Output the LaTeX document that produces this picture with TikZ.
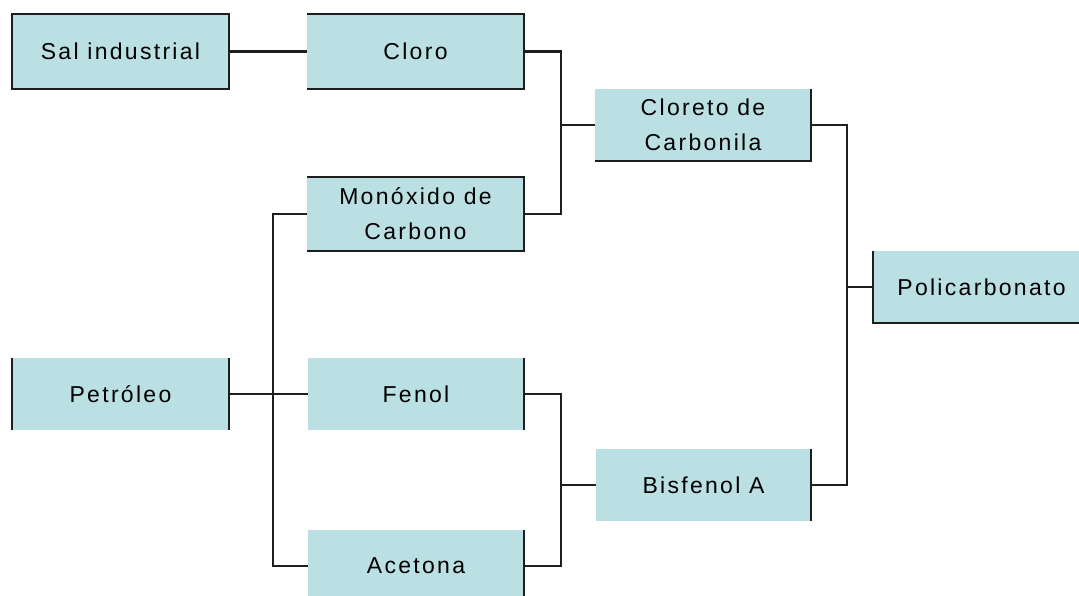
\documentclass[tikz,border=0pt]{standalone}
\usepackage{fontspec}
\setmainfont{Liberation Sans}[LetterSpace=10]
\definecolor{boxfill}{RGB}{186,224,227}
\definecolor{ink}{RGB}{30,30,30}
\begin{document}
\begin{tikzpicture}[x=1pt,y=-1pt,
  box/.style={rectangle, fill=boxfill, inner sep=0pt, minimum width=217pt,
    minimum height=73pt, align=center, font=\fontsize{23}{35}\selectfont},
  edge/.style={draw=ink, line width=2.2pt},
  link/.style={draw=ink, line width=2.2pt}]
\clip (0,0) rectangle (1079,596);
\fill[white] (0,0) rectangle (1079,596);

% boxes
\node[box, minimum height=75pt] (sal) at (120.5,51.5) {Sal industrial};
\node[box, minimum height=75pt] (cloro) at (415.5,51.5) {Cloro};
\node[box, minimum width=216pt, minimum height=72pt] (cloreto) at (703,125) {Cloreto de\\Carbonila};
\node[box, minimum height=74pt] (monox) at (415.5,214) {Monóxido de\\Carbono};
\node[box, minimum height=72pt] (petro) at (120.5,394) {Petróleo};
\node[box, minimum width=216pt, minimum height=72pt] (fenol) at (416,394) {Fenol};
\node[box, minimum width=215pt, minimum height=72pt] (bisf) at (703.5,485) {Bisfenol A};
\node[box, minimum width=216pt, minimum height=72pt] (acet) at (416,566) {Acetona};
\node[box, minimum height=72pt] (poli) at (981.5,287) {Policarbonato};

% box edges
\draw[edge] (sal.north west) rectangle (sal.south east);
\draw[edge] (cloro.north west) -- (cloro.north east) -- (cloro.south east) -- (cloro.south west);
\draw[edge] (cloreto.north east) -- (cloreto.south east) -- (cloreto.south west);
\draw[edge] (monox.north west) -- (monox.north east) -- (monox.south east) -- (monox.south west);
\draw[edge] (petro.north west) -- (petro.south west);
\draw[edge] (petro.north east) -- (petro.south east);
\draw[edge] (fenol.north east) -- (fenol.south east);
\draw[edge] (bisf.north east) -- (bisf.south east);
\draw[edge] (acet.north east) -- (acet.south east);
\draw[edge] (poli.north west) -- (poli.south west) -- (poli.south east);

% junction points
\coordinate (jA) at (561,125);
\coordinate (jB) at (273,394);
\coordinate (jC) at (561,485);
\coordinate (jD) at (847,287);

% connectors
\draw[link] (sal.east) -- (cloro.west);
\draw[link] (cloro.east) -| (jA) |- (monox.east);
\draw[link] (jA) -- (cloreto.west);
\draw[link] (petro.east) -- (fenol.west);
\draw[link] (monox.west) -| (jB) |- (acet.west);
\draw[link] (fenol.east) -| (jC) |- (acet.east);
\draw[link] (jC) -- (bisf.west);
\draw[link] (cloreto.east) -| (jD) |- (bisf.east);
\draw[link] (jD) -- (poli.west);
\end{tikzpicture}
\end{document}
